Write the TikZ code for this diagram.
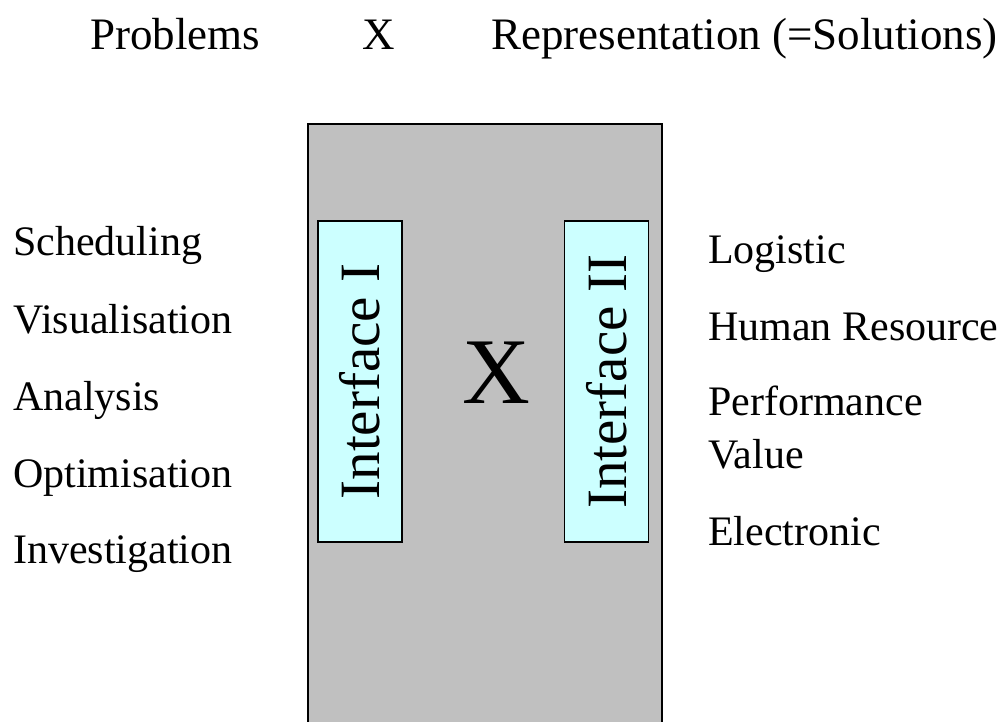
\documentclass[tikz,border=0pt]{standalone}
\usepackage{fontspec}
\setmainfont{Liberation Serif}
\usetikzlibrary{positioning}

\definecolor{panelgray}{RGB}{192,192,192}
\definecolor{ifacecyan}{RGB}{204,255,255}

\begin{document}
\begin{tikzpicture}[x=1pt, y=-1pt,
    lbl/.style = {anchor=base west, inner sep=0pt, font=\fontsize{42}{48}\selectfont},
    head/.style = {lbl, font=\fontsize{45}{50}\selectfont},
    iface/.style = {draw, line width=1.5pt, fill=ifacecyan, minimum width=84pt, minimum height=321pt, inner sep=0pt}]
  \useasboundingbox (0,0) rectangle (1007,722);
  \clip (0,0) rectangle (1007,722);

  % heading line
  \node[head] (prob) at (90,50) {Problems};
  \node[head] (cross) at (362,50) {X};
  \node[head] (repr) at (491,50) {Representation (=Solutions)};

  % grey panel, open at the bottom
  \draw[line width=1.5pt, fill=panelgray] (308,760) -- (308,124) -- (662,124) -- (662,760);

  \node[iface] (ifaceI) at (360,381.5) {};
  \node[iface] (ifaceII) at (606.5,381.5) {};
  \node[rotate=90, font=\fontsize{57}{60}\selectfont] at (ifaceI) {Interface I};
  \node[rotate=90, font=\fontsize{57}{60}\selectfont] at (ifaceII) {Interface II};
  \node[anchor=base, inner sep=0pt, font=\fontsize{94}{100}\selectfont] (bigx) at (496,403) {X};

  % problems
  \node[lbl] (sched) at (13,256) {Scheduling};
  \node[lbl] (visu) at (13,333) {Visualisation};
  \node[lbl] (anal) at (13,410) {Analysis};
  \node[lbl] (optim) at (13,487) {Optimisation};
  \node[lbl] (invest) at (13,563) {Investigation};

  % representations
  \node[lbl] (logi) at (708,263) {Logistic};
  \node[lbl] (human) at (708,340) {Human Resource};
  \node[lbl] (perf) at (708,415) {Performance};
  \node[lbl] (value) at (708,468) {Value};
  \node[lbl] (elec) at (708,545) {Electronic};
\end{tikzpicture}
\end{document}
